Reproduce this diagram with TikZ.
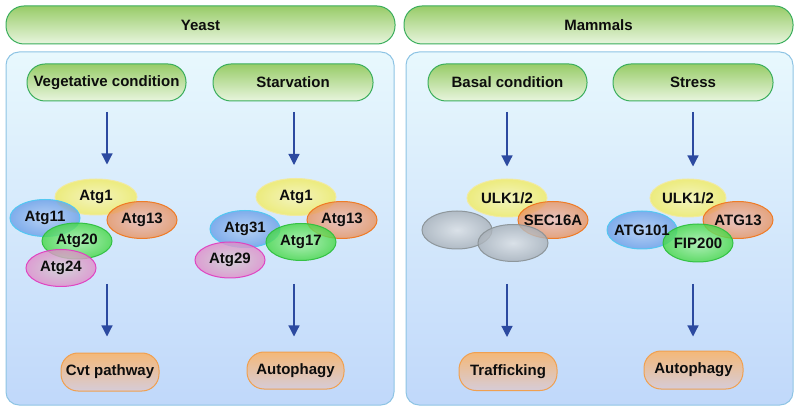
\documentclass[tikz,border=0pt]{standalone}
\usepackage{fontspec}
\setmainfont{Liberation Sans}
\usetikzlibrary{arrows.meta,shapes.geometric}
\definecolor{hdrtop}{HTML}{98CC68}
\definecolor{hdrbot}{HTML}{E8F5DE}
\definecolor{hdrline}{HTML}{3AAE5C}
\definecolor{pantop}{HTML}{E8F8FD}
\definecolor{panbot}{HTML}{C0D8FA}
\definecolor{panline}{HTML}{8EC4E4}
\definecolor{outtop}{HTML}{F4B878}
\definecolor{outbot}{HTML}{D6CCD8}
\definecolor{outline}{HTML}{F0A050}
\definecolor{arrcol}{HTML}{2C4AA0}
\definecolor{yin}{HTML}{FAF6B0}\definecolor{yout}{HTML}{F2EC5E}\definecolor{yline}{HTML}{F2EAA0}
\definecolor{bin}{HTML}{B0CCF2}\definecolor{bout}{HTML}{6A9EE8}\definecolor{bline}{HTML}{50C8F2}
\definecolor{oin}{HTML}{ECBCB4}\definecolor{oout}{HTML}{E8925E}\definecolor{oline}{HTML}{F07820}
\definecolor{gin}{HTML}{A8F2A8}\definecolor{gout}{HTML}{44D844}\definecolor{gline}{HTML}{30C040}
\definecolor{pin}{HTML}{D4D0D0}\definecolor{pout}{HTML}{E08CC8}\definecolor{pline}{HTML}{E040C0}
\definecolor{grin}{HTML}{DCE0E4}\definecolor{grout}{HTML}{A8B0B8}\definecolor{grline}{HTML}{8C9498}
\begin{document}
\begin{tikzpicture}[x=1pt,y=-1pt,
  lbl/.style={font=\bfseries\fontsize{15}{17}\selectfont, text=black!95},
  hdr/.style={lbl, draw=hdrline, line width=1pt, rounded corners=18pt,
    top color=hdrtop, bottom color=hdrbot, inner sep=0pt},
  panel/.style={draw=panline, line width=1pt, rounded corners=13pt,
    top color=pantop, bottom color=panbot, inner sep=0pt},
  outbox/.style={lbl, draw=outline, line width=1pt, rounded corners=17pt,
    top color=outtop, bottom color=outbot, inner sep=0pt,
    minimum height=38pt},
  ell/.style args={#1/#2/#3}{ellipse, draw=#3, line width=1pt, inner sep=0pt,
    inner color=#1, outer color=#2, fill opacity=0.8, draw opacity=0.95,
    minimum width=70pt, minimum height=37pt},
  arr/.style={draw=arrcol, line width=1.2pt, -{Triangle[length=11pt,width=11pt]}}
]
\useasboundingbox (0,0) rectangle (800,411);

% headers and panels
\node[hdr, minimum width=389pt, minimum height=38pt] (yh) at (200.5,25) {Yeast};
\node[hdr, minimum width=389pt, minimum height=38pt] (mh) at (598.5,25) {Mammals};
\node[panel, minimum width=388pt, minimum height=353pt] (yp) at (200,228.5) {};
\node[panel, minimum width=387pt, minimum height=353pt] (mp) at (599.5,228.5) {};

% condition boxes
\node[hdr, minimum width=159pt, minimum height=37pt] (veg) at (106.5,82.5) {Vegetative condition};
\node[hdr, minimum width=160pt, minimum height=37pt] (sta) at (293,82.5) {Starvation};
\node[hdr, minimum width=159pt, minimum height=37pt] (bas) at (507.5,82.5) {Basal condition};
\node[hdr, minimum width=160pt, minimum height=37pt] (str) at (693,82.5) {Stress};

% yeast vegetative cluster
\node[ell=yin/yout/yline, minimum width=82pt, minimum height=36pt] (a1) at (96,197) {};
\node[ell=bin/bout/bline] (a11) at (45,218) {};
\node[ell=oin/oout/oline] (a13) at (142,220) {};
\node[ell=gin/gout/gline, minimum height=36pt] (a20) at (77,241) {};
\node[ell=pin/pout/pline] (a24) at (61,268) {};
\node[lbl] (a1t) at (a1) {Atg1};
\node[lbl] (a11t) at (a11) {Atg11};
\node[lbl] (a13t) at (a13) {Atg13};
\node[lbl] (a20t) at (a20) {Atg20};
\node[lbl] (a24t) at (a24) {Atg24};

% yeast starvation cluster
\node[ell=yin/yout/yline, minimum width=80pt, minimum height=37pt] (b1) at (296,197) {};
\node[ell=oin/oout/oline] (b13) at (342,220) {};
\node[ell=bin/bout/bline] (b31) at (245,229) {};
\node[ell=gin/gout/gline] (b17) at (301,242) {};
\node[ell=pin/pout/pline, minimum height=36pt] (b29) at (230,260) {};
\node[lbl] (b1t) at (b1) {Atg1};
\node[lbl] (b13t) at (b13) {Atg13};
\node[lbl] (b31t) at (b31) {Atg31};
\node[lbl] (b17t) at (b17) {Atg17};
\node[lbl] (b29t) at (b29) {Atg29};

% mammals basal cluster
\node[ell=yin/yout/yline, minimum width=80pt, minimum height=38pt] (c1) at (507,198) {};
\node[ell=oin/oout/oline] (c16) at (553,220) {};
\node[ell=grin/grout/grline, minimum height=38pt] (cg1) at (457,230) {};
\node[ell=grin/grout/grline] (cg2) at (513,243) {};
\node[lbl] (c1t) at (c1) {ULK1/2};
\node[lbl] (c16t) at (c16) {SEC16A};

% mammals stress cluster
\node[ell=yin/yout/yline, minimum width=76pt, minimum height=38pt] (d1) at (688,198) {};
\node[ell=oin/oout/oline] (d13) at (738,220) {};
\node[ell=bin/bout/bline, minimum height=38pt] (d101) at (642,230) {};
\node[ell=gin/gout/gline, minimum height=38pt] (d200) at (698,243) {};
\node[lbl] (d1t) at (d1) {ULK1/2};
\node[lbl] (d13t) at (d13) {ATG13};
\node[lbl] (d101t) at (d101) {ATG101};
\node[lbl] (d200t) at (d200) {FIP200};

% outcome boxes
\node[outbox, minimum width=98pt] (cvt) at (110,372) {Cvt pathway};
\node[outbox, minimum width=97pt, minimum height=37pt] (aut1) at (295.5,370.5) {Autophagy};
\node[outbox, minimum width=98pt] (tra) at (508,371.5) {Trafficking};
\node[outbox, minimum width=99pt] (aut2) at (693.5,370) {Autophagy};

% arrows
\coordinate (u1) at (107,112);
\coordinate (u2) at (294,112);
\coordinate (u3) at (507,112);
\coordinate (u4) at (693,112);
\draw[arr, shorten >=14pt] (u1) -- (u1 |- a1.north);
\draw[arr, shorten >=13pt] (u2) -- (u2 |- b1.north);
\draw[arr, shorten >=12pt] (u3) -- (u3 |- c1.north);
\draw[arr, shorten >=12pt] (u4) -- (u4 |- d1.north);

\coordinate (l1) at (107,284);
\coordinate (l2) at (294,284);
\coordinate (l3) at (507,284);
\coordinate (l4) at (693,284);
\draw[arr, shorten >=16pt] (l1) -- (l1 |- cvt.north);
\draw[arr, shorten >=15pt] (l2) -- (l2 |- aut1.north);
\draw[arr, shorten >=15pt] (l3) -- (l3 |- tra.north);
\draw[arr, shorten >=14pt] (l4) -- (l4 |- aut2.north);
\end{tikzpicture}
\end{document}
